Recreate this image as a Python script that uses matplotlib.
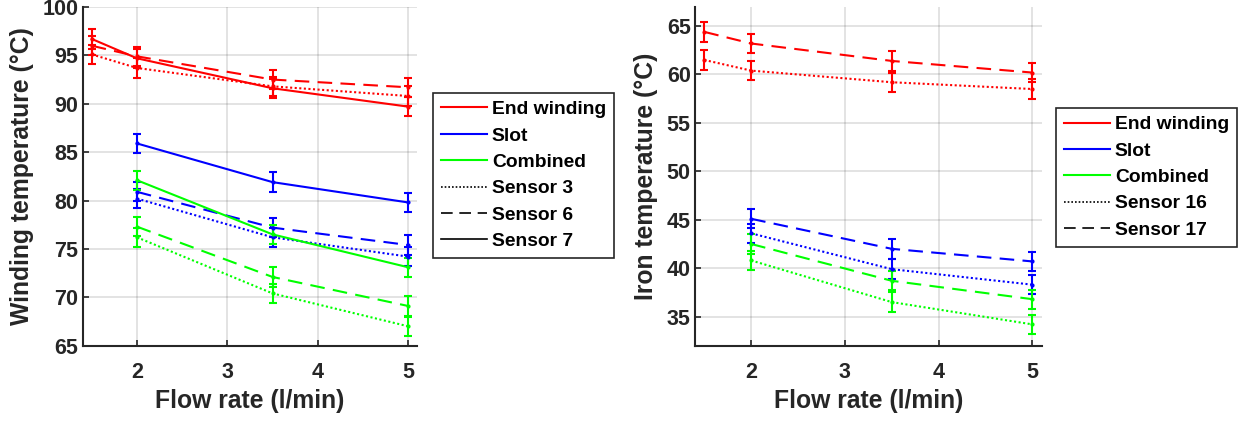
import numpy as np
import matplotlib
matplotlib.use('Agg')
import matplotlib.pyplot as plt
from matplotlib.lines import Line2D

plt.rcParams['font.family'] = ['Liberation Sans', 'DejaVu Sans']
plt.rcParams['font.weight'] = 'bold'

# Flow rates (l/min)
flow_ew = [1.5, 2, 3.5, 5]
flow = [2, 3.5, 5]

# Winding temperatures (degC), left panel
ew_s3 = [95.1, 93.7, 91.8, 90.8]
ew_s6 = [96.0, 94.9, 92.5, 91.7]
ew_s7 = [96.7, 94.7, 91.6, 89.7]
slot_s3 = [80.2, 76.2, 74.2]
slot_s6 = [80.9, 77.2, 75.4]
slot_s7 = [85.9, 81.9, 79.8]
comb_s3 = [76.2, 70.4, 67.0]
comb_s6 = [77.3, 72.1, 69.1]
comb_s7 = [82.1, 76.5, 73.1]

# Iron temperatures (degC), right panel
ew_s16 = [61.5, 60.4, 59.2, 58.5]
ew_s17 = [64.4, 63.2, 61.4, 60.2]
slot_s16 = [43.6, 39.9, 38.3]
slot_s17 = [45.1, 42.0, 40.7]
comb_s16 = [40.8, 36.5, 34.2]
comb_s17 = [42.5, 38.7, 36.8]

# measurement uncertainty (degC)
err = 1.0

RED, BLUE, GREEN = '#ff0000', '#0000ff', '#00ff00'
DOT = (0, (1, 1.2))
DASH = (0, (7, 4))
SOLID = '-'


def draw_series(ax, x, y, color, ls):
    ax.errorbar(x, y, yerr=err, color=color, linestyle=ls, linewidth=1.5,
                elinewidth=1.5, capsize=2.6, capthick=1.5,
                marker='.', markersize=4)


def style_axes(ax, ylim, yticks, ylabel):
    ax.set_xlim(1.4, 5.1)
    ax.set_ylim(*ylim)
    ax.set_xticks([2, 3, 4, 5])
    ax.set_yticks(yticks)
    ax.grid(True, color='#000000', alpha=0.13, linewidth=1.2)
    ax.set_axisbelow(True)
    for side in ['top', 'right']:
        ax.spines[side].set_visible(False)
    for side in ['left', 'bottom']:
        ax.spines[side].set_color('#262626')
        ax.spines[side].set_linewidth(1.5)
    ax.tick_params(direction='in', length=4, width=1.2, colors='#262626',
                   labelsize=15.5)
    ax.tick_params(axis='x', pad=12)
    ax.tick_params(axis='y', pad=3)
    for lab in ax.get_xticklabels() + ax.get_yticklabels():
        lab.set_fontweight('bold')
    ax.set_xlabel('Flow rate (l/min)', fontsize=17.8, fontweight='bold',
                  color='#262626', labelpad=4)
    ax.set_ylabel(ylabel, fontsize=17.8, fontweight='bold',
                  color='#262626', labelpad=6)


def legend_handles(sensors):
    handles = [Line2D([], [], color=RED, lw=1.5),
               Line2D([], [], color=BLUE, lw=1.5),
               Line2D([], [], color=GREEN, lw=1.5)]
    labels = ['End winding', 'Slot', 'Combined']
    styles = [DOT, DASH, SOLID]
    for name, ls in zip(sensors, styles):
        handles.append(Line2D([], [], color='black', lw=1.2, linestyle=ls))
        labels.append(name)
    return handles, labels


fig = plt.figure(figsize=(12.45, 4.21), dpi=100)
ax1 = fig.add_axes([0.0664, 0.1789, 0.2688, 0.8045])
ax2 = fig.add_axes([0.5582, 0.1789, 0.2785, 0.8052])

# left panel: winding
draw_series(ax1, flow_ew, ew_s3, RED, DOT)
draw_series(ax1, flow_ew, ew_s6, RED, DASH)
draw_series(ax1, flow_ew, ew_s7, RED, SOLID)
draw_series(ax1, flow, slot_s3, BLUE, DOT)
draw_series(ax1, flow, slot_s6, BLUE, DASH)
draw_series(ax1, flow, slot_s7, BLUE, SOLID)
draw_series(ax1, flow, comb_s3, GREEN, DOT)
draw_series(ax1, flow, comb_s6, GREEN, DASH)
draw_series(ax1, flow, comb_s7, GREEN, SOLID)
style_axes(ax1, (65, 100), np.arange(65, 101, 5), 'Winding temperature (°C)')

# right panel: iron
draw_series(ax2, flow_ew, ew_s16, RED, DOT)
draw_series(ax2, flow_ew, ew_s17, RED, DASH)
draw_series(ax2, flow, slot_s16, BLUE, DOT)
draw_series(ax2, flow, slot_s17, BLUE, DASH)
draw_series(ax2, flow, comb_s16, GREEN, DOT)
draw_series(ax2, flow, comb_s17, GREEN, DASH)
style_axes(ax2, (32, 67), np.arange(35, 66, 5), 'Iron temperature (°C)')

h1, l1 = legend_handles(['Sensor 3', 'Sensor 6', 'Sensor 7'])
h2, l2 = legend_handles(['Sensor 16', 'Sensor 17'])
for ax, h, l, anchor in [(ax1, h1, l1, (1.047, 0.746)), (ax2, h2, l2, (1.041, 0.701))]:
    leg = ax.legend(h, l, loc='upper left', bbox_to_anchor=anchor, borderaxespad=0,
                    fancybox=False, framealpha=1, edgecolor='#262626',
                    prop={'size': 13.9, 'weight': 'bold'}, handlelength=2.4,
                    handletextpad=0.25, labelspacing=0.46, borderpad=0.4)
    leg.get_frame().set_linewidth(1.2)

fig.savefig('out.png', dpi=100)
